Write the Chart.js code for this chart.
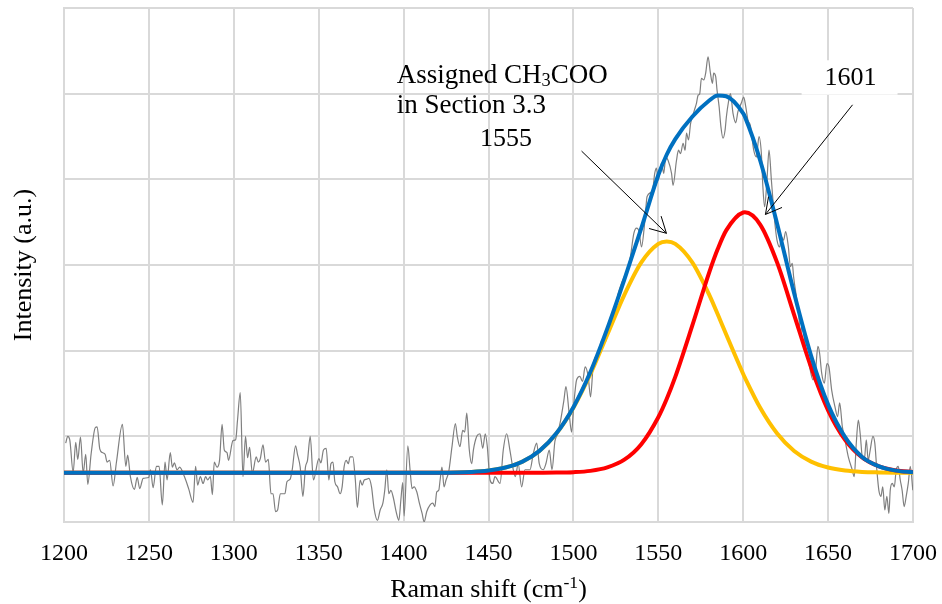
<!DOCTYPE html>
<html lang="en">
<head>
<meta charset="UTF-8">
<title>Raman spectrum with fitted peaks</title>
<script src="https://cdn.jsdelivr.net/npm/chart.js"></script>
<style>
  html, body { margin: 0; padding: 0; background: #fff; }
  #ramanChart { display: block; }
</style>
</head>
<body>
<canvas id="ramanChart" width="942" height="604"></canvas>
<script>
// measured spectrum (grey line)
const rawShift = [
  1201, 1202.2, 1203.4, 1205.4, 1206.9, 1208.1, 1209.7, 1211.3, 1212.8, 1214, 1216, 1218.4, 1219.5, 1221.1, 1222.6,
  1224.2, 1225.4, 1226.9, 1228.9, 1230.9, 1234.4, 1236.4, 1237.5, 1239.1, 1241.5, 1243.1, 1244.6, 1246.6, 1249.9,
  1250.9, 1252.5, 1254.4, 1256, 1257.9, 1259.5, 1260.7, 1262.6, 1263.8, 1265, 1266.6, 1268.1, 1270.9, 1273.4, 1276,
  1277.5, 1278.7, 1280.3, 1281.9, 1283.4, 1284.6, 1286.2, 1287.4, 1288.5, 1290.1, 1291.6, 1293.1, 1294.4, 1296,
  1296.9, 1299.5, 1301.1, 1302.2, 1303.8, 1305.4, 1306.9, 1308.1, 1309.3, 1310.9, 1313.2, 1314.4, 1315.6, 1317.2,
  1318.7, 1320.3, 1321.9, 1323.1, 1324.6, 1325.8, 1327.4, 1330.1, 1331.3, 1333.2, 1334.4, 1336.4, 1337.5, 1339.1,
  1340.7, 1342.2, 1343.4, 1345, 1346.9, 1350.1, 1351.3, 1352.8, 1354.4, 1356, 1357.2, 1358.4, 1359.5, 1361.1,
  1362.6, 1363.8, 1365, 1366.2, 1367.4, 1368.5, 1370.1, 1371.5, 1372.8, 1374.4, 1375.6, 1376.8, 1378.4, 1379.5,
  1381.1, 1382.6, 1384.6, 1386.2, 1387.8, 1388.9, 1390.1, 1391.3, 1392.5, 1394, 1395.6, 1397.2, 1398.4, 1399.5,
  1400.3, 1402.5, 1403.8, 1405, 1406.2, 1407.8, 1409.3, 1410.9, 1412.1, 1413.6, 1415.6, 1417.2, 1418.4, 1419.5,
  1420.7, 1421.5, 1422.6, 1423.8, 1425, 1426.6, 1428.5, 1430.5, 1431.6, 1433.2, 1434.8, 1436, 1437.2, 1438.7,
  1440.1, 1441.1, 1443.1, 1445, 1446.6, 1448.1, 1449.3, 1450.9, 1452.5, 1453.8, 1456.8, 1458.7, 1460.7, 1462.6,
  1464.2, 1465.8, 1467.5, 1469.5, 1471.5, 1474.4, 1476.4, 1478.4, 1479.9, 1482.2, 1483.8, 1485.8, 1487.4, 1489.1,
  1490.5, 1492.5, 1494.4, 1495.6, 1497.5, 1498.9, 1500.3, 1501.9, 1503.8, 1505.4, 1506.9, 1508.7, 1510.1, 1511.6,
  1513.2, 1514.6, 1516.6, 1518.5, 1520.5, 1522.5, 1524.4, 1526.4, 1528.4, 1530.3, 1532.2, 1533.6, 1535.6, 1537.2,
  1538.7, 1540.1, 1542.1, 1543.4, 1546.6, 1547.9, 1548.9, 1549.9, 1551.9, 1553.2, 1554.4, 1555.8, 1557.8, 1558.7,
  1560.7, 1561.9, 1563.1, 1564.6, 1565.8, 1566.6, 1567.8, 1569, 1570.1, 1571.3, 1572.5, 1573.4, 1574.4, 1575.4,
  1576.8, 1577.9, 1579.3, 1580.7, 1581.9, 1582.6, 1583.8, 1584.6, 1585.8, 1586.9, 1588.1, 1589.3, 1590.1, 1591.3,
  1592.5, 1594, 1595.6, 1596.9, 1598.9, 1600.3, 1601.5, 1602.8, 1604.2, 1606.2, 1607.8, 1609.3, 1610.7, 1611.6,
  1612.6, 1614, 1615.2, 1616.6, 1617.5, 1618.5, 1619.9, 1621.5, 1622.5, 1623.8, 1625, 1626.6, 1627.8, 1628.9,
  1629.7, 1631.3, 1632.8, 1633.6, 1634.8, 1636.4, 1638, 1639.1, 1641.1, 1642.6, 1644, 1645, 1646.2, 1647.8,
  1649.3, 1650.5, 1652.1, 1654, 1655.6, 1656.8, 1658.4, 1660.3, 1661.9, 1664.2, 1665.4, 1666.6, 1667.8, 1668.9,
  1670.1, 1671.3, 1672.5, 1673.6, 1674.8, 1676.4, 1677.5, 1678.7, 1679.9, 1681.1, 1682.2, 1683.4, 1684.6, 1685.8,
  1686.6, 1687.8, 1689, 1690.1, 1691.3, 1692.5, 1693.6, 1694.8, 1696, 1697.2, 1698.4, 1699.9
];
const rawIntensity = [
  0.92, 1.00, 0.96, 0.58, 0.93, 0.73, 0.99, 0.57, 0.79, 0.44, 0.80, 1.10, 1.11, 0.85, 0.81,
  0.79, 0.70, 0.72, 0.42, 0.70, 1.14, 0.65, 0.78, 0.53, 0.38, 0.52, 0.39, 0.51, 0.52,
  0.61, 0.40, 0.65, 0.65, 0.20, 0.70, 0.49, 0.81, 0.64, 0.69, 0.61, 0.64, 0.53, 0.39, 0.23,
  0.65, 0.43, 0.53, 0.45, 0.53, 0.49, 0.53, 0.32, 0.70, 0.64, 0.72, 1.14, 0.84, 0.81,
  0.72, 0.95, 0.96, 1.19, 1.51, 0.53, 1.00, 0.75, 0.87, 0.57, 0.76, 0.70, 0.74, 0.90,
  0.70, 0.73, 0.33, 0.33, 0.12, 0.14, 0.33, 0.33, 0.47, 0.50, 0.61, 0.89, 0.79, 0.64,
  0.30, 0.64, 0.72, 1.00, 0.49, 0.74, 0.69, 0.84, 0.86, 0.49, 0.68, 0.70, 0.47, 0.41,
  0.33, 0.41, 0.65, 0.72, 0.68, 0.76, 0.76, 0.51, 0.17, 0.49, 0.43, 0.49, 0.50, 0.51,
  0.41, 0.16, 0.02, 0.14, 0.22, 0.37, 0.61, 0.33, 0.37, 0.28, 0.12, 0.02, 0.26, 0.46,
  0.07, 0.89, 0.61, 0.39, 0.41, 0.35, 0.22, 0.10, 0.00, 0.12, 0.20, 0.22, 0.18, 0.35,
  0.37, 0.49, 0.64, 0.41, 0.49, 0.59, 0.88, 1.15, 1.00, 0.88, 1.07, 1.05, 1.27, 0.84,
  0.68, 0.84, 1.00, 1.03, 0.86, 1.03, 0.88, 0.49, 0.45, 0.53, 0.45, 0.84, 1.03, 0.84,
  0.65, 0.53, 0.68, 0.41, 0.61, 0.61, 0.80, 0.92, 0.68, 0.61, 0.68, 0.84, 0.61, 0.94,
  1.02, 1.19, 1.42, 1.58, 1.27, 1.05, 1.39, 1.66, 1.70, 1.64, 1.81, 1.70, 1.46, 1.81,
  1.93, 1.93, 2.12, 2.09, 2.22, 2.40, 2.47, 2.67, 2.79, 2.88, 2.98, 3.10, 3.37, 3.43,
  3.39, 3.21, 3.52, 3.80, 3.87, 4.07, 4.13, 3.99, 4.19, 4.07, 4.26, 4.22, 4.07, 3.93,
  4.22, 4.34, 4.30, 4.42, 4.34, 4.54, 4.46, 4.65, 4.73, 4.81, 4.89, 4.98, 5.00, 5.18,
  5.16, 5.24, 5.43, 5.24, 5.12, 5.24, 5.20, 5.04, 4.85, 4.61, 4.48, 4.57, 4.73, 4.90,
  5.00, 4.77, 4.66, 4.79, 4.89, 4.96, 4.85, 4.69, 4.63, 4.34, 4.26, 4.50, 4.30, 3.91,
  3.68, 3.99, 4.34, 3.99, 3.76, 3.52, 3.29, 3.21, 3.33, 3.29, 3.39, 3.21, 2.98, 3.02,
  2.86, 2.63, 2.40, 2.18, 2.32, 2.09, 1.93, 1.81, 1.66, 1.77, 2.05, 1.97, 1.74, 1.62,
  1.85, 1.81, 1.54, 1.35, 1.23, 1.39, 1.11, 0.92, 0.76, 0.61, 0.53, 0.92, 1.19, 1.03,
  0.76, 0.72, 0.96, 0.72, 0.84, 1.00, 0.92, 0.61, 0.37, 0.30, 0.41, 0.14, 0.30, 0.10,
  0.37, 0.45, 0.41, 0.61, 0.65, 0.49, 0.37, 0.18, 0.30, 0.45, 0.65, 0.37
];

// fitted curves at these shifts
const fitShift = [1200, 1300, 1400, 1420, 1440, 1450, 1460, 1470, 1480, 1490, 1500, 1510, 1520, 1530, 1540, 1550,
  1555, 1560, 1570, 1580, 1585, 1590, 1600, 1601, 1610, 1620, 1630, 1640, 1650, 1660, 1670, 1680, 1690, 1700];
const fit1555 = [0.575, 0.575, 0.575, 0.576, 0.585, 0.601, 0.636, 0.705, 0.829, 1.033, 1.333, 1.728, 2.189, 2.652, 3.031, 3.247,
  3.275, 3.247, 3.031, 2.652, 2.425, 2.189, 1.728, 1.685, 1.333, 1.033, 0.829, 0.705, 0.636, 0.601, 0.585, 0.579, 0.576, 0.575];
const fit1601 = [0.575, 0.575, 0.575, 0.575, 0.575, 0.575, 0.575, 0.575, 0.576, 0.577, 0.582, 0.597, 0.637, 0.727, 0.908, 1.223,
  1.439, 1.694, 2.292, 2.914, 3.186, 3.404, 3.613, 3.615, 3.472, 3.028, 2.419, 1.806, 1.304, 0.959, 0.754, 0.649, 0.602, 0.584];
const fitSum = [0.575, 0.575, 0.575, 0.576, 0.585, 0.601, 0.636, 0.705, 0.830, 1.035, 1.340, 1.750, 2.26, 2.83, 3.43, 4.05,
  4.29, 4.47, 4.73, 4.92, 4.98, 4.97, 4.77, 4.73, 4.22, 3.48, 2.67, 1.94, 1.37, 0.99, 0.76, 0.65, 0.60, 0.58];

const xTicks = [1200, 1250, 1300, 1350, 1400, 1450, 1500, 1550, 1600, 1650, 1700];
const yGrid = [0, 1, 2, 3, 4, 5, 6];

const serif = '"Liberation Serif", "Times New Roman", serif';

function toPoints(xs, ys) {
  return xs.map((x, i) => ({ x: x, y: ys[i] }));
}

// labels and arrows, placed in data units
const notes = {
  lines: [
    { parts: [['Assigned CH', 0], ['3', -1], ['COO', 0]], x: 1396, y: 5.12, size: 27, align: 'left' },
    { parts: [['in Section 3.3', 0]], x: 1396, y: 4.77, size: 27, align: 'left' },
    { parts: [['1555', 0]], x: 1445, y: 4.39, size: 26, align: 'left' },
    { parts: [['1601', 0]], x: 1663.2, y: 5.10, size: 26, align: 'center', box: [1634.4, 5.39, 1690.9, 5.0] }
  ],
  arrows: [
    { from: [1504.8, 4.33], to: [1554.8, 3.37] },
    { from: [1664.4, 4.87], to: [1613.1, 3.59] }
  ]
};

function richWidth(ctx, parts, size) {
  let w = 0;
  parts.forEach(p => {
    ctx.font = (p[1] ? size * 0.68 : size) + 'px ' + serif;
    w += ctx.measureText(p[0]).width;
  });
  return w;
}

function drawRich(ctx, parts, x, y, size, align) {
  let cx = x;
  if (align === 'center') cx = x - richWidth(ctx, parts, size) / 2;
  parts.forEach(p => {
    const s = p[1] ? size * 0.68 : size;
    ctx.font = s + 'px ' + serif;
    let dy = 0;
    if (p[1] < 0) dy = size * 0.08;
    if (p[1] > 0) dy = -size * 0.36;
    ctx.fillText(p[0], cx, y + dy);
    cx += ctx.measureText(p[0]).width;
  });
}

function drawArrow(ctx, x1, y1, x2, y2) {
  const ang = Math.atan2(y2 - y1, x2 - x1);
  const len = 18, spread = 0.5;
  ctx.beginPath();
  ctx.moveTo(x1, y1);
  ctx.lineTo(x2, y2);
  ctx.moveTo(x2 - len * Math.cos(ang - spread), y2 - len * Math.sin(ang - spread));
  ctx.lineTo(x2, y2);
  ctx.lineTo(x2 - len * Math.cos(ang + spread), y2 - len * Math.sin(ang + spread));
  ctx.stroke();
}

const annotatePlugin = {
  id: 'annotate',
  afterDraw(chart) {
    const ctx = chart.ctx;
    const xs = chart.scales.x, ys = chart.scales.y;
    ctx.save();
    ctx.fillStyle = '#000';
    ctx.textBaseline = 'alphabetic';
    ctx.textAlign = 'left';

    notes.lines.forEach(n => {
      if (n.box) {
        const bx1 = xs.getPixelForValue(n.box[0]), by1 = ys.getPixelForValue(n.box[1]);
        const bx2 = xs.getPixelForValue(n.box[2]), by2 = ys.getPixelForValue(n.box[3]);
        ctx.fillStyle = '#fff';
        ctx.fillRect(bx1, by1, bx2 - bx1, by2 - by1 + 1);
        ctx.fillStyle = '#000';
      }
      drawRich(ctx, n.parts, xs.getPixelForValue(n.x), ys.getPixelForValue(n.y), n.size, n.align);
    });

    ctx.strokeStyle = '#000';
    ctx.lineWidth = 1;
    notes.arrows.forEach(a => {
      drawArrow(ctx, xs.getPixelForValue(a.from[0]), ys.getPixelForValue(a.from[1]),
        xs.getPixelForValue(a.to[0]), ys.getPixelForValue(a.to[1]));
    });

    // axis titles
    const area = chart.chartArea;
    drawRich(ctx, [['Raman shift (cm', 0], ['-1', 1], [')', 0]], (area.left + area.right) / 2, 597, 26, 'center');
    ctx.translate(31, (area.top + area.bottom) / 2);
    ctx.rotate(-Math.PI / 2);
    drawRich(ctx, [['Intensity (a.u.)', 0]], 0, 0, 26, 'center');
    ctx.restore();
  }
};

new Chart(document.getElementById('ramanChart').getContext('2d'), {
  type: 'line',
  data: {
    datasets: [
      { label: 'Fit sum', data: toPoints(fitShift, fitSum), borderColor: '#0070C0', borderWidth: 4 },
      { label: '1601', data: toPoints(fitShift, fit1601), borderColor: '#FF0000', borderWidth: 4 },
      { label: '1555', data: toPoints(fitShift, fit1555), borderColor: '#FFC000', borderWidth: 4 },
      { label: 'Measured', data: toPoints(rawShift, rawIntensity), borderColor: '#7f7f7f', borderWidth: 1.2 }
    ]
  },
  options: {
    responsive: false,
    animation: false,
    devicePixelRatio: 1,
    layout: { padding: { left: 64, right: 29, top: 8, bottom: 0 } },
    elements: {
      point: { radius: 0 },
      line: { cubicInterpolationMode: 'monotone', fill: false }
    },
    plugins: { legend: { display: false }, tooltip: { enabled: false } },
    scales: {
      x: {
        type: 'linear',
        min: 1200,
        max: 1700,
        afterBuildTicks: s => { s.ticks = xTicks.map(v => ({ value: v })); },
        afterFit: s => { s.height = 82; s.paddingLeft = 0; s.paddingRight = 0; },
        grid: { color: '#d9d9d9', lineWidth: 2, drawTicks: false },
        border: { color: '#d9d9d9', width: 2 },
        ticks: {
          color: '#000', padding: 17, font: { family: serif, size: 24 }, maxRotation: 0,
          callback: v => String(v)
        }
      },
      y: {
        type: 'linear',
        min: 0,
        max: 6,
        afterBuildTicks: s => { s.ticks = yGrid.map(v => ({ value: v })); },
        afterFit: s => { s.width = 0; },
        grid: { color: '#d9d9d9', lineWidth: 2, drawTicks: false },
        border: { color: '#d9d9d9', width: 2 },
        ticks: { display: false }
      }
    }
  },
  plugins: [annotatePlugin]
});
</script>
</body>
</html>
